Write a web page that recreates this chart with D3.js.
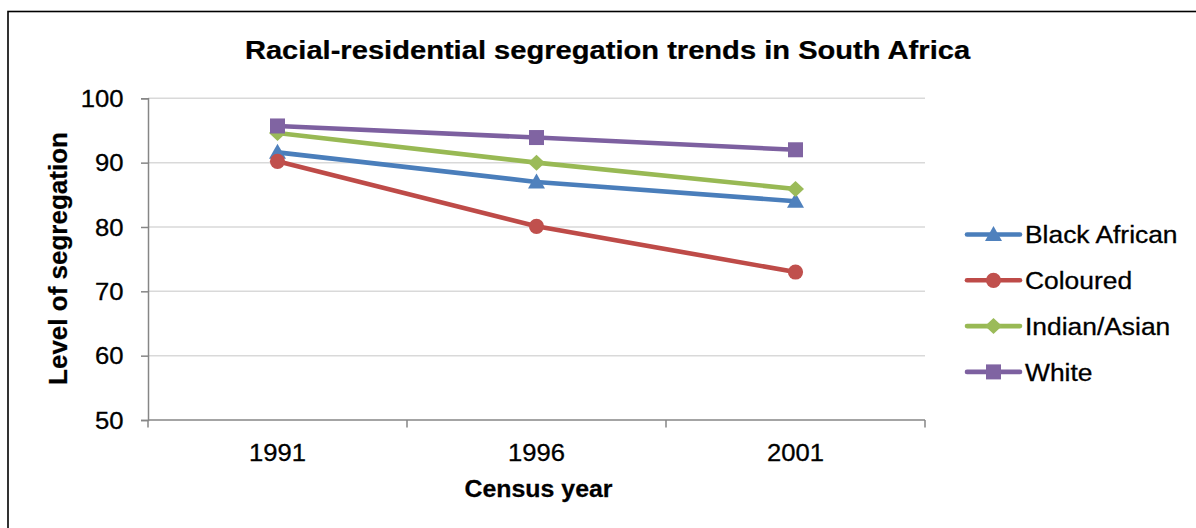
<!DOCTYPE html>
<html>
<head>
<meta charset="utf-8">
<script src="https://cdn.jsdelivr.net/npm/d3@7"></script>
<style>
  html, body { margin: 0; padding: 0; background: #fff; }
  svg { display: block; }
  text { font-family: "Liberation Sans", Arial, sans-serif; fill: #000; }
</style>
</head>
<body>
<svg id="chart" width="1196" height="528"></svg>
<script>
// ---- data ----
const categories = ["1991", "1996", "2001"];
const seriesNames = ["Black African", "Coloured", "Indian/Asian", "White"];
const blackAfrican = [91.6, 87.0, 84.0];
const coloured = [90.2, 80.1, 73.0];
const indianAsian = [94.6, 90.0, 85.9];
const white = [95.7, 93.9, 92.0];
const yTicks = [50, 60, 70, 80, 90, 100];
const titleText = "Racial-residential segregation trends in South Africa";
const xTitleText = "Census year";
const yTitleText = "Level of segregation";

// ---- styling ----
const seriesValues = [blackAfrican, coloured, indianAsian, white];
const lineColors = ["#4A7EBB", "#BE4B48", "#98B954", "#7D60A0"];
const markerColors = ["#4F81BD", "#C0504D", "#9BBB59", "#8064A2"];
const markerTypes = ["triangle", "circle", "diamond", "square"];

const svg = d3.select("#chart");
const W = 1196, H = 528;
const plot = { left: 148, right: 925, top: 98.3, bottom: 420 };

// outer frame (extends past right/bottom edges)
svg.append("rect")
  .attr("x", 8).attr("y", 11.5)
  .attr("width", W + 20).attr("height", H + 20)
  .attr("fill", "#fff").attr("stroke", "#000").attr("stroke-width", 1.6);

const x = d3.scaleBand().domain(categories).range([plot.left, plot.right]).padding(0);
const y = d3.scaleLinear().domain([50, 100]).range([plot.bottom, plot.top]);

function label(g, opts) {
  const t = g.append("text")
    .attr("transform", `translate(${opts.x},${opts.y})` + (opts.rotate ? ` rotate(${opts.rotate})` : "") + ` scale(${opts.sx || 1},1)`)
    .attr("text-anchor", opts.anchor || "middle")
    .style("font-size", opts.size + "px")
    .style("font-weight", opts.weight || "normal")
    .style("stroke", "#000").style("stroke-width", opts.weight === "bold" ? 0.25 : 0.3)
    .text(opts.text);
  if (opts.dy) t.attr("dy", opts.dy);
  return t;
}

// gridlines
svg.append("g")
  .selectAll("line").data(yTicks.filter(d => d !== 50)).join("line")
  .attr("x1", plot.left).attr("x2", plot.right)
  .attr("y1", d => y(d)).attr("y2", d => y(d))
  .attr("stroke", "#D9D9D9").attr("stroke-width", 1.5);

// y axis
const yAxis = d3.axisLeft(y).tickValues(yTicks).tickSize(7).tickPadding(0).tickFormat("");
const yg = svg.append("g").attr("transform", `translate(${plot.left},0)`).call(yAxis);
yg.select(".domain").attr("stroke", "#868686").attr("stroke-width", 1.5);
yg.selectAll(".tick line").attr("stroke", "#868686").attr("stroke-width", 1.5);
yTicks.forEach(v => {
  label(svg, { x: 123.5, y: y(v), text: String(v), size: 24, sx: 1.07, anchor: "end", dy: "0.36em" });
});

// x axis
const xg = svg.append("g").attr("transform", `translate(0,${plot.bottom})`);
xg.append("line").attr("x1", plot.left).attr("x2", plot.right).attr("y1", 0).attr("y2", 0)
  .attr("stroke", "#868686").attr("stroke-width", 1.5);
const boundaries = categories.map(c => x(c)).concat([x(categories[categories.length - 1]) + x.bandwidth()]);
xg.selectAll("line.tk").data(boundaries).join("line").attr("class", "tk")
  .attr("x1", d => d).attr("x2", d => d).attr("y1", 0).attr("y2", 7.5)
  .attr("stroke", "#868686").attr("stroke-width", 1.5);
categories.forEach(c => {
  label(svg, { x: x(c) + x.bandwidth() / 2, y: 461, text: c, size: 23.5, sx: 1.09 });
});

// titles
label(svg, { x: 607.5, y: 58.5, text: titleText, size: 26, weight: "bold", sx: 1.12 });
label(svg, { x: 538.5, y: 496.5, text: xTitleText, size: 23.5, weight: "bold", sx: 1.06 });
label(svg, { x: 66.5, y: 258.5, text: yTitleText, size: 25.5, weight: "bold", sx: 1.02, rotate: -90 });

// markers
function drawMarker(g, type, cx, cy, color) {
  if (type === "circle") {
    g.append("circle").attr("cx", cx).attr("cy", cy).attr("r", 7.6).attr("fill", color);
  } else if (type === "square") {
    g.append("rect").attr("x", cx - 7.5).attr("y", cy - 7.5).attr("width", 15).attr("height", 15).attr("fill", color);
  } else if (type === "diamond") {
    g.append("path").attr("d", `M${cx},${cy - 8}L${cx + 8.5},${cy}L${cx},${cy + 8}L${cx - 8.5},${cy}Z`).attr("fill", color);
  } else if (type === "triangle") {
    g.append("path").attr("d", `M${cx},${cy - 8.5}L${cx + 8.5},${cy + 6.5}L${cx - 8.5},${cy + 6.5}Z`).attr("fill", color);
  }
}

const line = d3.line().x((d, i) => x(categories[i]) + x.bandwidth() / 2).y(d => y(d));
seriesValues.forEach((vals, si) => {
  const g = svg.append("g");
  g.append("path").datum(vals).attr("d", line)
    .attr("fill", "none").attr("stroke", lineColors[si]).attr("stroke-width", 4.6)
    .attr("stroke-linejoin", "round").attr("stroke-linecap", "round");
  vals.forEach((v, i) => drawMarker(g, markerTypes[si], x(categories[i]) + x.bandwidth() / 2, y(v), markerColors[si]));
});

// legend
const legendY0 = 234.5, legendStep = 45.8;
seriesNames.forEach((name, si) => {
  const ly = legendY0 + si * legendStep;
  const g = svg.append("g");
  g.append("line").attr("x1", 967).attr("x2", 1020).attr("y1", ly).attr("y2", ly)
    .attr("stroke", lineColors[si]).attr("stroke-width", 4.6).attr("stroke-linecap", "round");
  drawMarker(g, markerTypes[si], 993.5, ly, markerColors[si]);
  label(g, { x: 1025, y: ly + 8.8, text: name, size: 24, sx: 1.1, anchor: "start" });
});
</script>
</body>
</html>
